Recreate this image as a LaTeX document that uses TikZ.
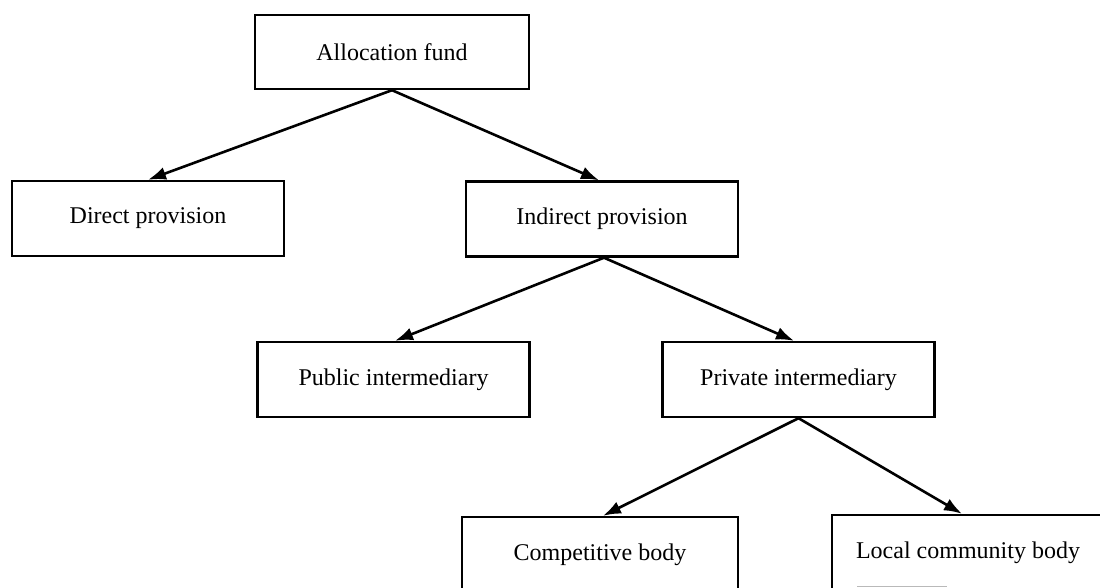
\documentclass[tikz,border=0pt]{standalone}
\usepackage{fontspec}
\setmainfont{Liberation Serif}
\usetikzlibrary{arrows.meta}
\begin{document}
\begin{tikzpicture}[x=1pt,y=-1pt,
  box/.style={draw, line width=2.4pt, minimum width=272pt, minimum height=75pt,
    inner sep=0pt, font=\fontsize{24}{28}\selectfont},
  link/.style={line width=2.6pt, -{Latex[length=18pt,width=13pt]}}]
  \useasboundingbox (0,0) rectangle (1100,588);
  \clip (0,0) rectangle (1100,588);
  % levels of the funding tree
  \node[box, minimum width=274pt, minimum height=74pt] (alloc) at (392,52) {Allocation fund};
  \node[box] (direct) at (148,218.5) {Direct provision};
  \node[box] (indirect) at (602,219) {Indirect provision};
  \node[box] (public) at (393.5,379.5) {Public intermediary};
  \node[box] (private) at (798.5,379.5) {Private intermediary};
  \node[box, minimum width=276pt] (competitive) at (600,554.5) {Competitive body};
  \node[box] (local) at (968,552.5) {Local community body};
  % faint fragment of the lower edge
  \draw[gray!55, line width=1.5pt] (857,586.5) -- (947,586.5);
  % branches
  \draw[link] (alloc.south) -- ([xshift=-3pt]indirect.north);
  \draw[link] (alloc.south) -- (direct.north);
  \draw[link] ([xshift=2pt]indirect.south) -- ([xshift=1.5pt]public.north);
  \draw[link] ([xshift=2pt]indirect.south) -- ([xshift=-4.5pt]private.north);
  \draw[link] (private.south) -- ([xshift=3pt]competitive.north);
  \draw[link] (private.south) -- ([xshift=-6pt]local.north);
\end{tikzpicture}
\end{document}
